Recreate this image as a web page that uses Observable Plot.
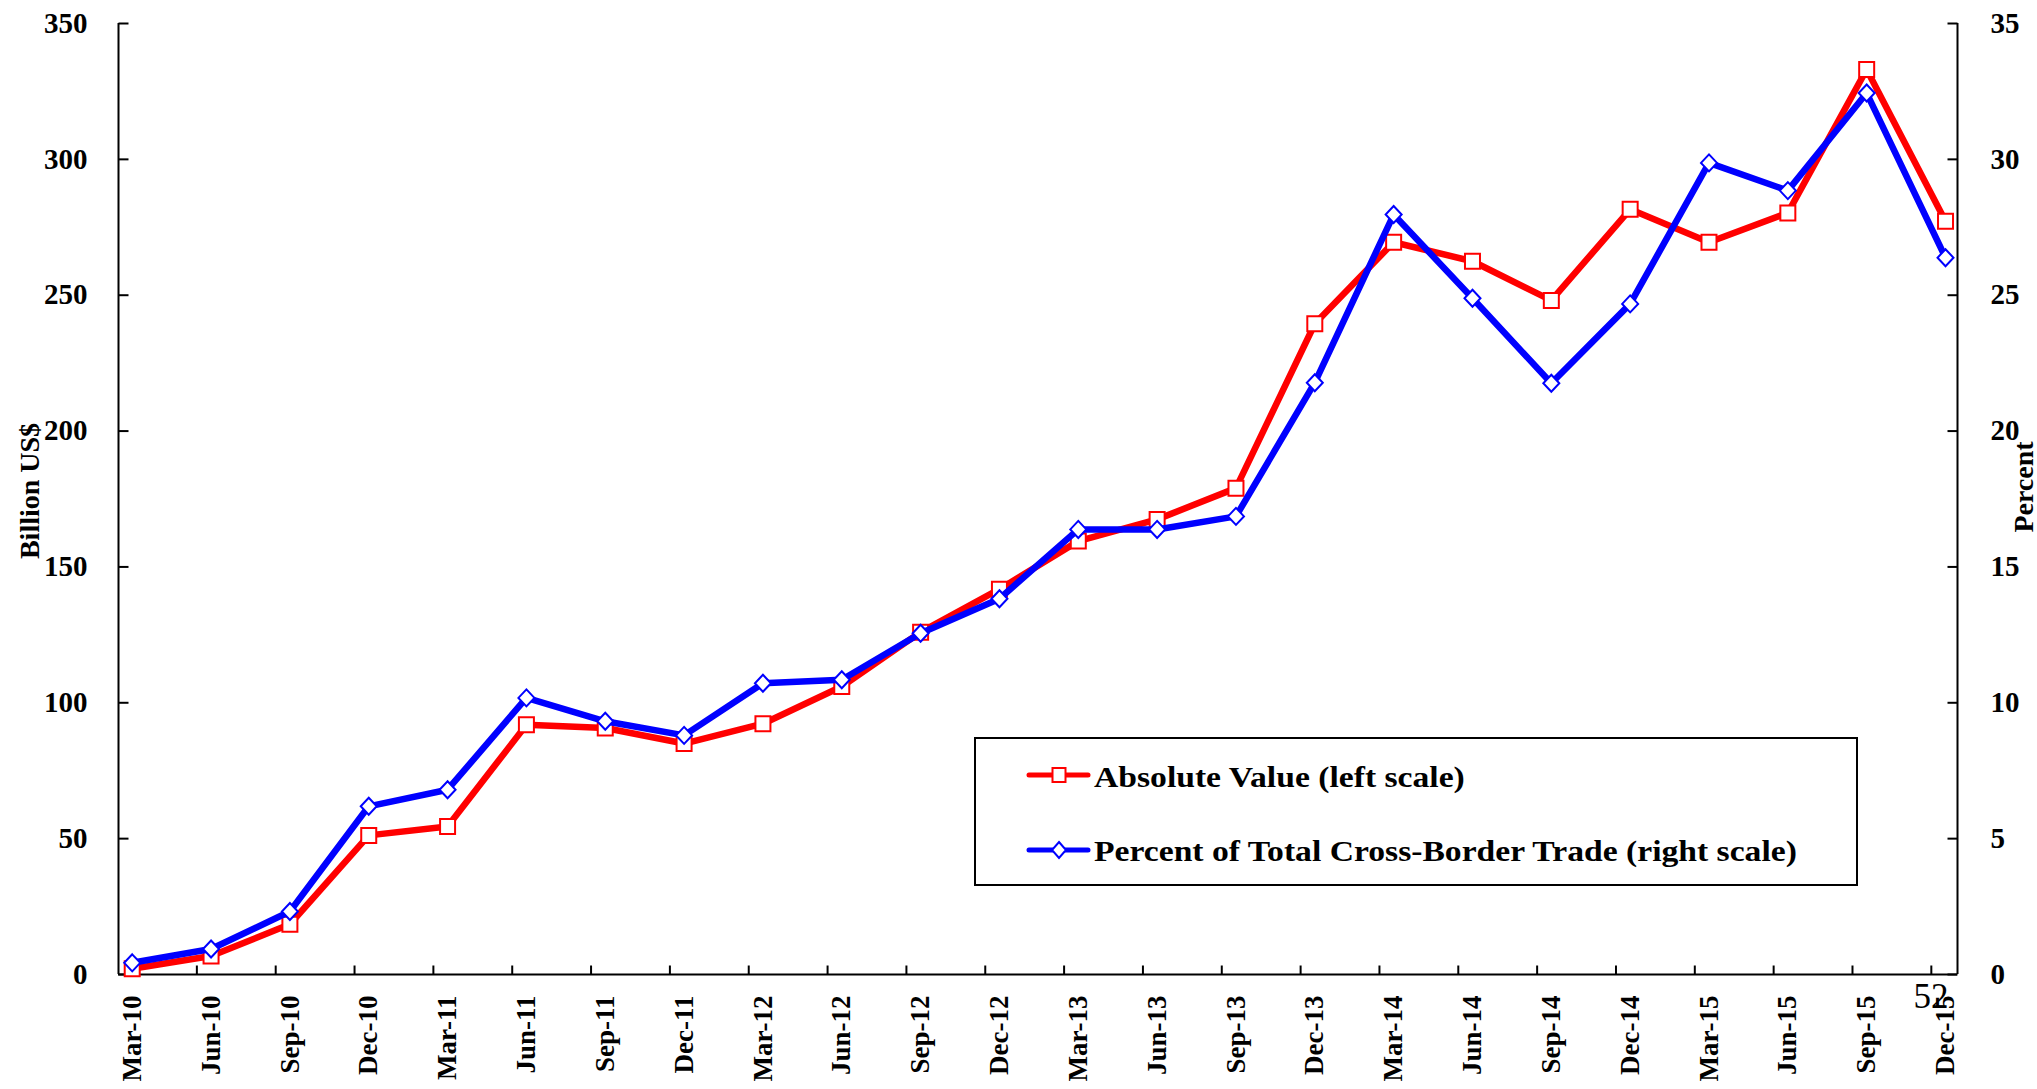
<!DOCTYPE html>
<html>
<head>
<meta charset="utf-8">
<script src="https://cdn.jsdelivr.net/npm/d3@7"></script>
<script src="https://cdn.jsdelivr.net/npm/@observablehq/plot@0.6"></script>
<style>
  html, body { margin: 0; padding: 0; background: #fff; }
  #chart svg { display: block; }
</style>
</head>
<body>
<div id="chart"></div>
<script>
const quarters = ["Mar-10","Jun-10","Sep-10","Dec-10","Mar-11","Jun-11","Sep-11","Dec-11","Mar-12","Jun-12","Sep-12","Dec-12","Mar-13","Jun-13","Sep-13","Dec-13","Mar-14","Jun-14","Sep-14","Dec-14","Mar-15","Jun-15","Sep-15","Dec-15"];
const absoluteValue = [2.1, 6.8, 18.5, 51.2, 54.5, 91.9, 90.7, 85.0, 92.3, 106.0, 126.0, 141.8, 159.5, 167.5, 179.0, 239.5, 269.5, 262.5, 248.1, 281.6, 269.5, 280.3, 333.1, 277.2];
const percentOfTotal = [0.43, 0.94, 2.32, 6.19, 6.8, 10.18, 9.32, 8.8, 10.72, 10.85, 12.56, 13.83, 16.38, 16.38, 16.86, 21.78, 27.97, 24.89, 21.76, 24.68, 29.87, 28.85, 32.44, 26.38];
const leftTicks = [0, 50, 100, 150, 200, 250, 300, 350];
const rightTicks = [0, 5, 10, 15, 20, 25, 30, 35];
const seriesNames = ["Absolute Value (left scale)", "Percent of Total Cross-Border Trade (right scale)"];
const leftTitle = "Billion US$";
const rightTitle = "Percent";
const pageNumber = "52";

// right scale (0-35) shares the plot with left scale (0-350)
const ratio = 350 / 35;
const rows = quarters.map((q, i) => ({i, q, abs: absoluteValue[i], pct: percentOfTotal[i] * ratio}));
const xDomain = [-0.174, 23.152];
const xTickPos = d3.range(quarters.length - 1).map(i => i + 0.82);

const RED = "#ff0000", BLUE = "#0000ff";
const FONT = "'Liberation Serif', 'Times New Roman', serif";
const STRETCH = 1.16;

const squareSym = {draw(ctx) { const s = 7.5; ctx.rect(-s, -s, 2 * s, 2 * s); }};
const diamondSym = {draw(ctx) { ctx.moveTo(0, -8.5); ctx.lineTo(8, 0); ctx.lineTo(0, 8.5); ctx.lineTo(-8, 0); ctx.closePath(); }};
const vTick = {draw(ctx) { ctx.moveTo(0, 0); ctx.lineTo(0, -9); }};
const tickRight = {draw(ctx) { ctx.moveTo(0, 0); ctx.lineTo(10, 0); }};
const tickLeft = {draw(ctx) { ctx.moveTo(0, 0); ctx.lineTo(-10, 0); }};

const chart = Plot.plot({
  width: 2037,
  height: 1089,
  marginLeft: 118,
  marginRight: 80,
  marginTop: 23,
  marginBottom: 115,
  x: {type: "linear", domain: xDomain, axis: null},
  y: {domain: [0, 350], axis: null},
  style: {fontFamily: FONT, fontWeight: "bold", background: "#fff", color: "#000", overflow: "visible"},
  marks: [
    Plot.ruleY([0], {stroke: "#000", strokeWidth: 2}),
    Plot.ruleX([xDomain[0]], {stroke: "#000", strokeWidth: 2}),
    Plot.ruleX([xDomain[1]], {stroke: "#000", strokeWidth: 2}),
    Plot.dot(xTickPos, {x: d => d, y: d => 0, symbol: vTick, r: 1, fill: "none", stroke: "#000", strokeWidth: 2}),
    Plot.dot(leftTicks, {x: d => xDomain[0], y: d => d, symbol: tickRight, r: 1, fill: "none", stroke: "#000", strokeWidth: 2}),
    Plot.dot(rightTicks, {x: d => xDomain[1], y: d => d * ratio, symbol: tickLeft, r: 1, fill: "none", stroke: "#000", strokeWidth: 2}),
    // y tick labels
    Plot.text(leftTicks, {ariaLabel: "hlabel", x: d => xDomain[0], y: d => d, text: d => String(d), textAnchor: "end", dx: -31, fontSize: 29, fontWeight: "bold", fill: "#000"}),
    Plot.text(rightTicks, {ariaLabel: "hlabel", x: d => xDomain[1], y: d => d * ratio, text: d => String(d), textAnchor: "start", dx: 33, fontSize: 29, fontWeight: "bold", fill: "#000"}),
    // x tick labels
    Plot.text(rows, {ariaLabel: "vlabel", x: "i", y: d => 0, text: "q", rotate: -90, textAnchor: "end", lineAnchor: "middle", dy: 21, fontSize: 27, fontWeight: "bold", fill: "#000"}),
    // axis titles
    Plot.text([leftTitle], {ariaLabel: "vlabel", frameAnchor: "left", text: d => d, rotate: -90, textAnchor: "middle", lineAnchor: "middle", dx: -88, dy: -8, fontSize: 28, fontWeight: "bold", fill: "#000"}),
    Plot.text([rightTitle], {ariaLabel: "vlabel", frameAnchor: "right", text: d => d, rotate: -90, textAnchor: "middle", lineAnchor: "middle", dx: 67, dy: -12, fontSize: 28, fontWeight: "bold", fill: "#000"}),
    // series
    Plot.line(rows, {x: "i", y: "abs", stroke: RED, strokeWidth: 6.5, strokeLinejoin: "miter"}),
    Plot.dot(rows, {x: "i", y: "abs", symbol: squareSym, r: 1, fill: "#fff", stroke: RED, strokeWidth: 2}),
    Plot.line(rows, {x: "i", y: "pct", stroke: BLUE, strokeWidth: 6.5, strokeLinejoin: "miter"}),
    Plot.dot(rows, {x: "i", y: "pct", symbol: diamondSym, r: 1, fill: "#fff", stroke: BLUE, strokeWidth: 2}),
    // page number artifact
    Plot.text([pageNumber], {frameAnchor: "bottom-right", text: d => d, textAnchor: "start", dx: -44, dy: 33, fontSize: 35, fontWeight: "normal", fill: "#000"})
  ]
});

document.getElementById("chart").appendChild(chart);

const svg = d3.select(chart);
// mimic the horizontally stretched lettering of the original
svg.selectAll('g[aria-label="hlabel"] text').each(function() {
  const t = this.getAttribute("transform") || "";
  this.setAttribute("transform", t + ` scale(${STRETCH},1)`);
});
svg.selectAll('g[aria-label="vlabel"] text').each(function() {
  const t = this.getAttribute("transform") || "";
  this.setAttribute("transform", t + " scale(1,1.25)");
});

// legend box
const lg = svg.append("g").attr("font-family", FONT).attr("font-weight", "bold");
lg.append("rect").attr("x", 975).attr("y", 738).attr("width", 882).attr("height", 147)
  .attr("fill", "#fff").attr("stroke", "#000").attr("stroke-width", 2);
const legendRows = [
  {name: seriesNames[0], color: RED, sym: "square", ly: 775, ty: 787},
  {name: seriesNames[1], color: BLUE, sym: "diamond", ly: 850, ty: 861}
];
legendRows.forEach(r => {
  lg.append("line").attr("x1", 1029).attr("x2", 1088).attr("y1", r.ly).attr("y2", r.ly)
    .attr("stroke", r.color).attr("stroke-width", 5).attr("stroke-linecap", "round");
  if (r.sym === "square") {
    lg.append("rect").attr("x", 1059 - 6.5).attr("y", r.ly - 7).attr("width", 13).attr("height", 14)
      .attr("fill", "#fff").attr("stroke", r.color).attr("stroke-width", 2);
  } else {
    lg.append("path").attr("d", `M1059,${r.ly - 8}L1066,${r.ly}L1059,${r.ly + 8}L1052,${r.ly}Z`)
      .attr("fill", "#fff").attr("stroke", r.color).attr("stroke-width", 2);
  }
  lg.append("text").attr("transform", `translate(1094,${r.ty}) scale(${STRETCH},1)`)
    .attr("text-anchor", "start").attr("font-size", 29).attr("fill", "#000").text(r.name);
});
</script>
</body>
</html>
